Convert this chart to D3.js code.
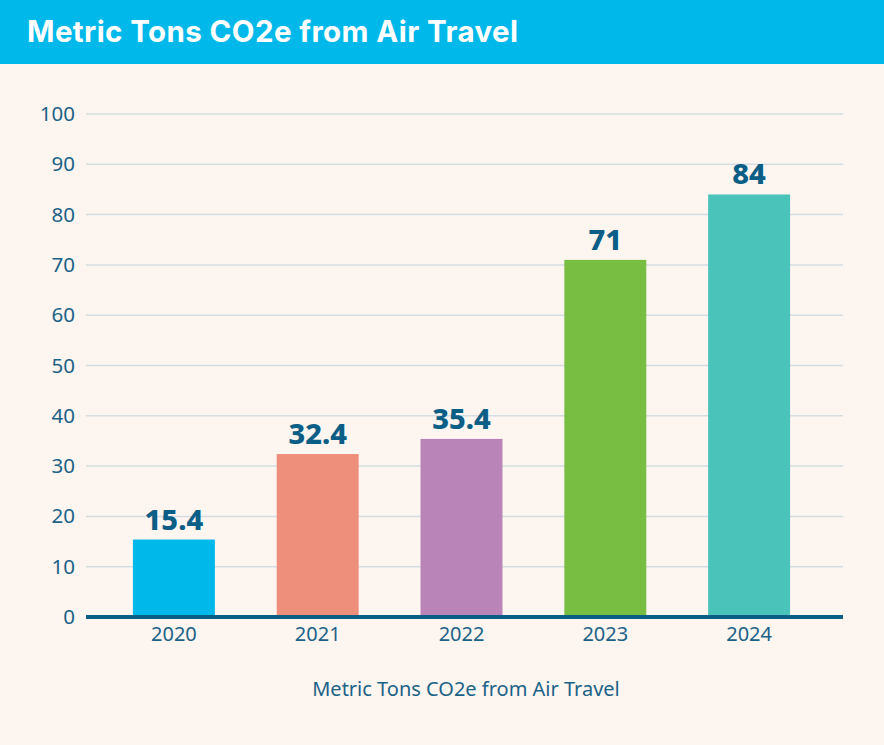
<!DOCTYPE html>
<html><head><meta charset="utf-8">
<script src="https://cdn.jsdelivr.net/npm/d3@7"></script>
<style>
html,body{margin:0;padding:0;background:#fdf5ef;}
svg{display:block;}
</style></head>
<body>
<svg id="chart" width="884" height="745"></svg>
<script>
const title = "Metric Tons CO2e from Air Travel";
const categories = ["2020","2021","2022","2023","2024"];
const values = [15.4, 32.4, 35.4, 71, 84];
const valueLabels = ["15.4","32.4","35.4","71","84"];
const colors = ["#00b9ea","#ee8f7b","#b985b8","#78be43","#4ac3bb"];
const yTicks = [0,10,20,30,40,50,60,70,80,90,100];
const xTitle = "Metric Tons CO2e from Air Travel";

const svg = d3.select("#chart");
svg.append("rect").attr("width",884).attr("height",745).attr("fill","#fdf5ef");
svg.append("rect").attr("x",0).attr("y",0).attr("width",884).attr("height",64).attr("fill","#00b9ea");
svg.append("text").attr("x",27).attr("y",42).attr("fill","#fff")
  .attr("font-family","Inter, 'Noto Sans', sans-serif").attr("font-weight",700)
  .attr("font-size",29.5).attr("letter-spacing","0.4").text(title);

const y = d3.scaleLinear().domain([0,100]).range([617,114]);
const x = d3.scaleBand().domain(categories).range([102,821]).paddingInner(0.43).paddingOuter(0.215);
const gridX0 = 86, gridX1 = 843;

const grid = svg.append("g");
grid.selectAll("line").data(yTicks.filter(d=>d>0)).join("line")
  .attr("x1",gridX0).attr("x2",gridX1).attr("y1",d=>y(d)).attr("y2",d=>y(d))
  .attr("stroke","#d3dde2").attr("stroke-width",1.5);

const yAxis = svg.append("g").attr("transform",`translate(${gridX0},0)`)
  .call(d3.axisLeft(y).tickValues(yTicks).tickSize(0).tickPadding(11));
yAxis.select(".domain").remove();
yAxis.selectAll("text").attr("font-family","'Noto Sans', sans-serif").attr("font-size",20.5)
  .attr("fill","#1b6288");

svg.append("g").selectAll("rect").data(values).join("rect")
  .attr("x",(d,i)=>x(categories[i])).attr("width",x.bandwidth())
  .attr("y",d=>y(d)).attr("height",d=>y(0)-y(d)).attr("fill",(d,i)=>colors[i]);

svg.append("g").selectAll("text").data(values).join("text")
  .attr("x",(d,i)=>x(categories[i])+x.bandwidth()/2).attr("y",d=>y(d)-10)
  .attr("text-anchor","middle").attr("font-family","'Noto Sans', sans-serif")
  .attr("font-weight",800).attr("font-size",29).attr("fill","#0b5e86")
  .text((d,i)=>valueLabels[i]);

const xAxis = svg.append("g").attr("transform",`translate(0,${y(0)})`)
  .call(d3.axisBottom(x).tickSize(0).tickPadding(10));
xAxis.select(".domain").remove();
xAxis.selectAll("text").attr("font-family","'Noto Sans', sans-serif").attr("font-size",20)
  .attr("fill","#1b6288");
svg.append("line").attr("x1",gridX0).attr("x2",gridX1).attr("y1",y(0)).attr("y2",y(0))
  .attr("stroke","#0b5e86").attr("stroke-width",4);

svg.append("text").attr("x",466).attr("y",696).attr("text-anchor","middle")
  .attr("font-family","'Noto Sans', sans-serif").attr("font-size",20).attr("fill","#1b6288")
  .text(xTitle);
</script>
</body></html>
